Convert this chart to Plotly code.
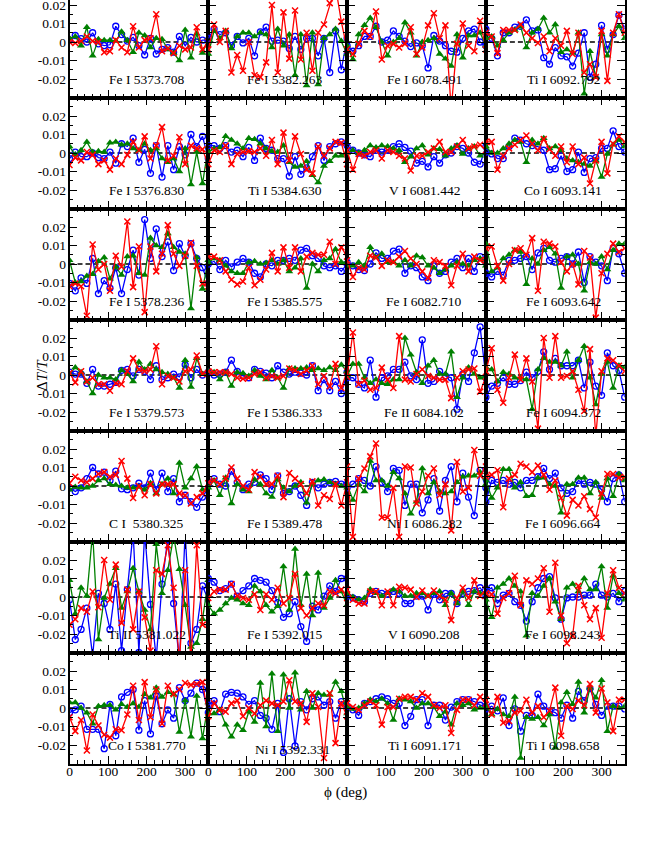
import plotly.graph_objects as go

# ---------------- data (values in units of 1e-3 of dT/T), phi step 15 deg ----------------
PHI_STEP = 15
LABELS = [
    "Fe I 5373.708", "Fe I 5382.263", "Fe I 6078.491", "Ti I 6092.792",
    "Fe I 5376.830", "Ti I 5384.630", "V I 6081.442", "Co I 6093.141",
    "Fe I 5378.236", "Fe I 5385.575", "Fe I 6082.710", "Fe I 6093.642",
    "Fe I 5379.573", "Fe I 5386.333", "Fe II 6084.102", "Fe I 6094.372",
    "C I  5380.325", "Fe I 5389.478", "Ni I 6086.282", "Fe I 6096.664",
    "Ti II 5381.022", "Fe I 5392.015", "V I 6090.208", "Fe I 6098.243",
    "Co I 5381.770", "Ni I 5392.331", "Ti I 6091.171", "Ti I 6098.658",
]

BLUE = [
    [1, 3.5, 1.8, 0, 5, -1, -2, -1.5, 8.5, 4, 0.5, 2.5, -2, -7, 2, -6.5, -4, -3, -5.5, 3, -2, 2.5, 0, 1],
    [2, 7, 4, 5, -2, 3, -0.5, 2, -7.5, 5.5, 8, 0.5, 1, 0.5, -3.5, 3, -4, 2, 2, -7.5, 2, -16.5, 6, -15],
    [-2, -5, -2, 3, 3, 8.5, 0, 1, 6, 3, 0.5, -2.5, -0.5, -2, -14, 3.5, 0.5, -2, -5, -5.5, 2, 6, 7, 0],
    [7, 2, -7.5, 5, 5, 8, 8.5, 12, 6, 6.5, -8.5, -12, -3, -7.5, -8, -13, -6, 5, -19, -12, 9, -4, 4, 14.5],
    [-3, 0.5, -2, -2, 0, -2.5, -3, 0.5, -5.5, 5, 3.5, 8, -5, 2, -11, 4, -13, 4, -9, 3.5, -1, 10, 3.5, 9],
    [4, 4, 2.5, 4, 0.5, 1.5, -2, 3, -4, 8, 2.5, 1.5, -3, -3, -12.5, -2, -11.5, -8, -2, 4, -4, 3.5, 5, 6],
    [3.5, 1.5, 0, -1, -2, 1.5, 0.5, 1.5, 3.5, 5, 3, 1, -5.5, -4.5, -7.5, -2, -5.5, -1, 0, 3.5, 2.5, 0, -5, -6],
    [0.5, -0.5, -3, -3, 3.5, 8, 7, 5, 4, 3.5, 1.5, -9, -8.5, -1.5, -10, -9, 0.5, -10.5, -3, -2.5, 2.5, 2.5, 12, 3.5],
    [-10.5, -14.5, -7.5, -10.5, 3, -16, -9, -13, -2, -16, -3, 7.5, -6, 24, 3, 19, 4, 12, -3.5, 11, 4.5, 11, 3, -2],
    [0, 1.5, -3, 2, -1.5, 1, 3, 1, -5, -7, 0, -1, 2, 2, 3, 2, 7.5, 8.5, 4.5, 3, -1, -2, -1, -4],
    [1, -1, -3, -3.5, 0, 6, 3, 3, 7, 8, -5, -1, -2, -7, -9, -1, -5, -4, 1, 3, -2, 3, -4, 4],
    [-5, -7, -4, -6, 2, 2, 3, 4, -3, 6, 8.5, 2, 1, 3, 4, 0, 6.5, -10, 4, 1, -1, -9, 8.5, 5.5],
    [1.5, 0.5, 0.5, -4.5, 3, -6, -6, -5, -4, 2.5, 3, -0.5, 3, 2, -2.5, 5, -2.5, -1.5, 0.5, -1, 5.5, -1.5, 3, 0],
    [1.5, 0, 0.5, 1.5, 8, 2, -0.5, -1.5, 3, 2, 1, -1.5, 5, 1.5, 0.5, 1.5, 1, 0, 5, -8.5, -2.5, -8.5, -3.5, -10],
    [-1.5, -1.5, -5, -7, 8, -12, -1.5, -0.5, 3, 3, 7, -0.5, -2.5, 19, -4.5, -3.5, 2, -0.5, -1.5, -18.5, 0.5, -3.5, 12, 26],
    [-12, -6, -4.5, -1.5, -5, -5, -3, 1.5, -1.5, 2, 12.5, 3, 9, 5, 5, 5, 8, -7, 7, -6, -11, 12, 5, 2.5],
    [-1, -3, -1, 4, 10, 6.5, 7.5, 3, 8, -1.5, -2, -1, 1.5, -1, 7, -2, 7, -3, 4, -8.5, -5, -8.5, -11.5, -6],
    [1, 4, 1, 0, 8, 2, -2, 1, 2, 6, 4, -2, 5.5, -4, -3, 0, -5, -10.5, 2, -1, 1, 2, 2.5, 1],
    [-1, 1, 4, 3, 0, 10.5, 2, -3, 9.5, 8.5, -10.5, 1, 1, -14.5, -7.5, 4, -13.5, 3, 10.5, -8.5, 7, -6, -16, 8.5],
    [-8.5, 3, 2, 3, 1, 2, -1, 3, 3, 5, 9.5, 4, 7, -1, -4, -3, 3, 1, 2, 1, -2, -8.5, 4, 6],
    [-1.5, -23, -17.5, -6, -32, 2, -3.5, -17.5, 7, -29, 4, 35, -30, 35, -4, -33, 7, 32, -3.5, -35, 35, -25, -17.5, 6],
    [10, 8, 3.5, 4.5, 7, 0.5, 3.5, 6, 10, 9, 8, 3.5, -3, -11, -9, -2.5, -16, -24, -5, -7, 0.5, 6, 3, 10],
    [0.5, -0.5, -1.5, -2.5, 2, 3, 2, 1.5, 3, 2, -3.5, -3.5, 0.5, 0.5, -7, 1.5, -1.5, 2, 2, -3.5, 2, 3, 3.5, 5],
    [3, 5, -3.5, 1, 2, -2.5, -4.5, -13, -2.5, 5, 10, 11, -0.5, -12, -0.5, 0, 0, 1, 1, 7, 1, 0, 2, -2.5],
    [-2.5, -1, 1, -11.5, -11.5, -11.5, -22, 2, -15, 6, 8.5, 10, -12, 4, -14, 6.5, -8.5, -1, -5.5, 11, 4, 8, 13.5, 10],
    [1.5, 4, -2, 7.5, 8.5, 8, 6, 2, 4, -4, -5.5, -11.5, 2.5, -24, 5, -20.5, 3.5, -1, 5, 6, 1.5, 3.5, -5.5, 3.5],
    [1, -1, -4, 2.5, 3.5, 5, 6, 5, 2.5, 2.5, -9.5, -4.5, 4.5, 4.5, -9.5, 1.5, 1.5, -6.5, 0.5, 3.5, 4.5, 4.5, 3.5, 1.5],
    [-0.5, 1, -1.5, 5.5, -9.5, -0.5, -12.5, -4, -4, 7.5, 1, -1.5, -2.5, -5.5, 1.5, -5.5, 9, 4, 10.5, 2, -4, 1, 1, 1],
]

RED = [
    [0, -0.5, 0.5, 3, 0.5, 0, -5.5, -5, 1, -3, -5.5, 8.5, -3, 1, 2, 15, -5, -3.5, -6, -2, -4, -3, 8, -4],
    [-4, 9.5, 0, 6, -16.5, -7, -15.5, 0, -18, -19, -11, 20, -16.5, 16, -9, 17, -9.5, 5, -15.5, 5, 9.5, 21, 30, 11],
    [-4, -6.5, -1, 6, 3, 16.5, -9.5, -2, -1, -3, -1, 8, -6.5, -3, 9, 15.5, 2, 9, -36, -1, 10, -2, -5, 11.5],
    [5, 3, -6, 6.5, 6.5, 6.5, 9.5, 5, 2, -0.5, 3, -5, 2, -2, 6, -6.5, 5, -16.5, -12, -19, 6, -21, 5, 15],
    [-6.5, -2.5, -4, 0.5, -1, -6, -4, -9, -3, -6, -1, 6, 1.5, 9, -3, 4, 14, -4, -1.5, 8.5, -6, 4, 2.5, 2],
    [-6, 1.5, 0.5, 4, -6, -0.5, 0.5, 1, 0.5, 2.5, -1.5, 7, -6, 11, -4, 9, -0.5, -9, -11, 3.5, -1.5, 2.5, 6, 5.5],
    [1.5, -9, -0.5, -1.5, 0.5, 1.5, -3, 1.5, 0.5, -1.5, -3, -9.5, -1.5, -1.5, 0.5, 2.5, 6, 0.5, 0.5, 3.5, 7, 2.5, 3.5, 4.5],
    [6, 6, -9, -1.5, 2.5, 4.5, 7, 9.5, 5, 1.5, 7.5, 2, -1.5, 3.5, -5, 3.5, -6, -2.5, -16.5, -4, 6, -11, 5, 9],
    [-12, -10.5, -12, -28, 10.5, -3, 0, -14.5, 4.5, -1.5, 23, -12.5, 9.5, -26, 9.5, -4, 5.5, 21, 5.5, -1, 4.5, 11.5, -1, -10.5],
    [4, 4, 2, -4, -8.5, -11, -9.5, -2, -11.5, -8.5, -3, 6, -4, 9, -2, 9, -4, 4, 6, 5, 5, 12, 0, 9],
    [2, -7, -2, -3, 4.5, 3.5, -1, 2, 1, 4, 7, 3, 0, -4, -7.5, 2, 1, -1, -11.5, -1, 5.5, -4, 4, 2],
    [8.5, 9.5, -1, -9, 0, 7.5, 8.5, 5, 14, -14.5, 12, 11, 9.5, 1, -4, 0, -11, 7, 3.5, -29, -5, 5.5, 11, 6.5],
    [1, -4, 2, -3.5, -1.5, -5, -5, -8.5, -4.5, -5, 2, 9, 3, 2, 3, 15.5, -5, -0.5, -1.5, -3.5, 2, 3, 10.5, 0.5],
    [2, 1.5, 1.5, 1.5, 0.5, -1.5, -2, -1.5, 0.5, 1.5, -1.5, -0.5, -1.5, -0.5, 3.5, 2.5, 0.5, 2.5, 5, -5, -0.5, -6, 6, -7],
    [-1, 23, -5, -3, -8, -7, 4, -2.5, -7, 21, -2.5, -3.5, 0.5, 3, -0.5, -1.5, -2.5, -2.5, -12.5, -1.5, 2, 3, 3.5, -9],
    [2, 14.5, -8, -15, -1.5, 11, -2.5, 9, -3.5, -29, 20, -1.5, 21, -1.5, -0.5, 2, -8, -19.5, 14, -33, 2, 9, 8, 5],
    [1.5, 5, 3, 2, 4, 6.5, 7.5, 5, 6, 13.5, 4, -6.5, 0, -5, 1, -4, 1, 1, 1, -4, -5, -9.5, -6, -4],
    [2, 3, 1, 4, 10, 4, 0, -2, 7.5, 5, 1, 1, 5.5, -6, 7, 4, 1, -4, 2.5, -10.5, -5, -7, 1, -10.5],
    [10.5, -27.5, 4, 9.5, 16, 23, -17, -17, -1, -27.5, 10.5, 10, -9.5, -3, 5.5, 9.5, -5, 1, -24, 13, -3, -1, 19.5, 5.5],
    [5, 6, 8.5, -11.5, 4, 6, 12, 10.5, 7.5, 11, 6, -2, 3, -6.5, -16, -7.5, -10.5, -5.5, -12.5, -17, -4, 6.5, 6.5, 4.5],
    [-15, -12, -6, -8, 3, -5.5, 20, -1.5, 17.5, -14, 4, -17.5, 3, -11, -29, 14.5, 12.5, 28, 5, -35, 14.5, -35, 28, -15],
    [-0.5, 3, 4, 4, 7, 0.5, -0.5, -1.5, 1.5, -7, 1.5, -1.5, 5, -3.5, -0.5, 12.5, -6, -10, -6, -3.5, -4.5, 3, 2, 4],
    [4, -1.5, -3.5, -3.5, 3, 3, -4.5, 3, -4.5, 5.5, 5, 4, 0, 3.5, 0.5, 3.5, 0.5, -1.5, -12.5, -0.5, 5, -0.5, 9, 0.5],
    [2, 1.5, -9, -0.5, 2, 11.5, -4.5, 9, 7, 10, 15.5, -8, 18.5, -10, -25, -21, 6, -4.5, -12, -6, -22, 2, 14.5, 5],
    [-5, -12.5, -6.5, -23, -3.5, -9.5, -14.5, -16, -11.5, -12, -3.5, 12, -6.5, 14, -5, 10, -8.5, 12, 7.5, 10, 13.5, 12.5, 13, 14],
    [-4.5, 2.5, -1, -2, 2.5, 4, -4.5, 0, -3, 1.5, 4, 2.5, 1.5, 3.5, 15, 3.5, 2.5, -7.5, 8, 0.5, -27, 8, -19, 2.5],
    [2.5, 0.5, -1, 1.5, 3.5, 1.5, -9, 0.5, 0.5, 5, 6, 6, 4.5, 8, 6, 1.5, 0, 1.5, -13.5, -1, 4.5, 4.5, 1.5, 6],
    [4.5, -3.5, 6, -8, -7, -2.5, -1.5, 4.5, -2.5, 1, -5, -1.5, 11, -15, 1, -0.5, 4, 1.5, 13, -2.5, 10.5, 3, -12.5, 4.5],
]

GREEN = [
    [2, 3, -2, 8, -7.5, 1.5, 1, 1, 0.5, 5.5, 1, -5.5, 5, 3.5, -3, 2, 1.5, -4, -6, -10, 6.5, -8.5, 4.5, -6],
    [-6.5, 6, 2, 6, -3.5, 3, 5, 5, 3, 5, 4, -3, 7, -2, 4, -18, 4, -23.5, 5, -23, 2, 4, 7, 0.5],
    [-2, -9.5, 4, 9, 13, 8, 0, -7.5, 0, 2, 10.5, 5, -7.5, 0, 1, 2, -6.5, -9, -13, 4, -8.5, 3.5, 3.5, 5],
    [2, 3, -2, 1, 5, 6.5, 8.5, -3, 5, 7, 13, 5, 9.5, -5.5, -4, -6, 5, -28, -5, -19, 4, -7.5, 4, 8.5],
    [3.5, -1, 1.5, 6, 0.5, 1, 0.5, 5.5, 6, 4.5, 5, 2.5, 1.5, 5, 1.5, 2.5, -3, -5, -3, -10, 2.5, -17, 0.5, -16.5],
    [0.5, 2.5, 3, 9, 7, 5, 2.5, 8, 7.5, 5, 2.5, 1, 0.5, 4, -5, -7.5, -7, -4.5, -12, -16, -7, -4.5, -1.5, -1.5],
    [0, 1.5, 0, 1.5, 4, 3, 4, 3.5, 2.5, 1.5, -5, -2, 2.5, 4, -1, 2.5, 2, -1.5, 2.5, 4, -0.5, 2.5, 3.5, -1.5],
    [3.5, 0, 0, 2.5, 5, 7, 6, -5, 7, 5, 8, 2.5, 3.5, 1.5, -3, -4, -5, -6, -7, -4, -13, -0.5, 4.5, 7],
    [2, -10, -9.5, -6.5, -5.5, 1.5, 3.5, -8, -1.5, -6, 4, 4.5, -5, -6, 14, 10, 9, 16.5, 9, 6.5, 5.5, -24, 3.5, -13.5],
    [1, 3, 2, -1, -4, -5, -5, 1, 1.5, 0, 0.5, 2, 0, 2, -4, -2, 3, -13, 0, -4, 2, 3, 8, 1],
    [-1, -1, 1, -1, 9, 3.5, 5.5, 1, 1, -1, 2, -1, 4.5, 3.5, -1, -2, -5, -3, -1, 1, 0, -1, 2, 3],
    [11, -4, -2, 3, 5, 7.5, 6.5, -11, 3, 0, 7.5, 9, 5.5, -13, 4, 5, 0, -14.5, 1, 0, 4, -3, 7.5, 11],
    [0.5, 4, 1.5, -3.5, -10, 0, -1.5, -1.5, -2.5, 2.5, 0.5, -3.5, 7, 3, 6, 3, 1.5, 0.5, -1.5, -7, 8, -6.5, 9, 0.5],
    [2, 1.5, -2.5, 1.5, -6, 1.5, 1, -0.5, 2.5, -0.5, -2.5, 2.5, -1.5, -7, 3.5, 3.5, 3.5, 4, 2.5, 3.5, 2.5, 4, 2.5, 5.5],
    [-0.5, 6, 6, -1.5, -4.5, -2.5, -4.5, -5, -2.5, -2.5, 20, 11, 1.5, -4.5, 5, 8, 0.5, 0.5, 12.5, -12, -1.5, 4, 0.5, -1.5],
    [4, 3, -3.5, 1.5, 0.5, -1.5, -1.5, -2.5, -18.5, 3, 9, 7, 7, 5, 12.5, -1.5, 8, 15.5, -1.5, -16, 0.5, 7, -7, 5],
    [-2, -0.5, -1, -1, 0, 3, 4, 1, 0.5, 0, -1, -1, -0.5, -2, 1.5, -4, 1, 4, -4, 12.5, -1, 4, 10.5, -2],
    [-1, 3, -5, 4.5, -9.5, 1, -2, -3, 3.5, 1, -4, -6, 3.5, -1, -3, 0, 2, -9, 1, 3, 3.5, 2, 1, 0],
    [1, -7.5, 1, -3, 13.5, 3, 3, 0, 7.5, 4, -4, -15, -8.5, 9.5, -4, 2, -3, -4, -3, 2, 5, 5.5, 5.5, 7.5],
    [3, -6.5, -1, 9, 9, -1, 2, -5.5, -5, 4.5, 4.5, 1, 0, -14.5, 1, 1, 4.5, 4.5, -4, 2, -6.5, 4, -5.5, 6.5],
    [9, -9, 5, 0.5, 35, -23, -0.5, 7, 15.5, -6, 3, 15.5, 3, -7, -17.5, 28.5, 2, 14.5, 33, 15, -4.5, -27, -25, -12],
    [-4.5, -9, -7, -3.5, -0.5, -1.5, -3.5, -4.5, 6, 3, -4.5, -8, -5, 16.5, -7, 26, -4.5, 12.5, -10, 13, -6, -0.5, 9, 3],
    [2, 0, -1.5, -0.5, 4, 2, 0.5, 2, 4, 3, 0.5, 0.5, 2, 2, 0.5, 2, 3, -4.5, 2, -3.5, 3, -4.5, 3, 2],
    [-1.5, -11, 5, 7, 10, 6, 3, -21, 2, 0.5, 6, 10, -2.5, -12, 5, 7, 3, 10, 4, 4, 16.5, -6, 11.5, 2],
    [3, 3, 0, -2.5, -8.5, 1, 1.5, 1.5, -1, 2, 0.5, 2.5, 0.5, 7.5, 5.5, 11, 6, 8.5, 7.5, -13, 4, -15.5, 6.5, -16.5],
    [-3, -3, -1, -9, -15.5, -9, -12, -2, -7.5, 13.5, -10, 18.5, -12.5, 18, 0, 19, -1, 9, 0, 8, 7, 7, 14, 9],
    [0.5, -0.5, 0, 2.5, 4.5, 3.5, 5, 2.5, -6.5, 5, 4.5, 3.5, 0, 2.5, 2.5, 0.5, -4.5, -2, -9, 2.5, 1.5, 2.5, -1, 0],
    [1, -3.5, -0.5, -3.5, -4.5, 6, -27, -5, -6, -5, -9.5, -3.5, -21.5, 3, 8.5, 2, 14, -2.5, 11, 5.5, 15, -12.5, 1, 0],
]

X_TICKS = [0, 100, 200, 300]
X_MINOR = [20, 40, 60, 80, 120, 140, 160, 180, 220, 240, 260, 280, 320, 340]
Y_TICKS = [-0.02, -0.01, 0, 0.01, 0.02]
Y_TICK_TEXT = ["-0.02", "-0.01", "0", "0.01", "0.02"]
Y_MINOR = [-0.025, -0.015, -0.005, 0.005, 0.015, 0.025]

# ---------------- layout geometry (pixels) ----------------
W, H = 665, 860
NROWS, NCOLS = 7, 4
COL_EDGES = [69.5, 208.3, 347.1, 485.9, 624.7]
ROW_H = 111.0
ROW1_TOP = -13.5          # top row is cut off by the image edge
YR = 0.03

FONT = "Liberation Serif"
BLUE_C, RED_C, GREEN_C = "#0000ff", "#ff0000", "#008000"

fig = go.Figure()
layout = {}
shapes = []
annotations = []

for i in range(NROWS * NCOLS):
    r, c = divmod(i, NCOLS)
    n = i + 1
    xa = "xaxis" if n == 1 else f"xaxis{n}"
    ya = "yaxis" if n == 1 else f"yaxis{n}"
    xr = "x" if n == 1 else f"x{n}"
    yr = "y" if n == 1 else f"y{n}"

    top_px = ROW1_TOP + r * ROW_H
    bot_px = top_px + ROW_H
    vis_top = max(top_px, 0.0)
    y_hi = YR - (vis_top - top_px) / ROW_H * (2 * YR)

    layout[xa] = dict(
        domain=[COL_EDGES[c] / W, COL_EDGES[c + 1] / W],
        range=[0, 360], anchor=yr, automargin=False,
        showline=True, linecolor="black", linewidth=1.8,
        mirror=("allticks" if r > 0 else False),
        ticks="inside", tickvals=X_TICKS, ticklen=8, tickwidth=1.4, tickcolor="black",
        minor=dict(tickvals=X_MINOR, ticks="inside", ticklen=4, tickwidth=1.4, tickcolor="black"),
        showticklabels=(r == NROWS - 1), ticklabelstandoff=-6, ticklabeloverflow="allow",
        tickfont=dict(family=FONT, size=13.5, color="black"),
        showgrid=False, zeroline=False, fixedrange=True,
    )
    layout[ya] = dict(
        domain=[1 - bot_px / H, 1 - vis_top / H],
        range=[-YR, y_hi], anchor=xr, automargin=False,
        showline=True, linecolor="black", linewidth=1.8, mirror="allticks",
        ticks="inside", tickvals=Y_TICKS, ticktext=Y_TICK_TEXT, ticklen=8, tickwidth=1.4,
        tickcolor="black",
        minor=dict(tickvals=Y_MINOR, ticks="inside", ticklen=4, tickwidth=1.4, tickcolor="black"),
        showticklabels=(c == 0), ticklabelstandoff=-1, ticklabeloverflow="allow",
        tickfont=dict(family=FONT, size=13.5, color="black"),
        showgrid=False, zeroline=False, fixedrange=True,
    )

    shapes.append(dict(type="line", xref=xr, yref=yr, x0=0, x1=360, y0=0, y1=0,
                       line=dict(color="black", width=1.4, dash="5px,3px"), layer="below"))

    lab_x, lab_y = 200, -0.0205
    if LABELS[i].startswith("Ni I 5392"):
        lab_x, lab_y = 218, -0.0225
    annotations.append(dict(text=LABELS[i], xref=xr, yref=yr, x=lab_x, y=lab_y,
                            showarrow=False, xanchor="center", yanchor="middle",
                            font=dict(family=FONT, size=13.5, color="black")))

    series = [
        (BLUE[i], BLUE_C, dict(symbol="circle-open", size=6, line=dict(width=1.3, color=BLUE_C))),
        (GREEN[i], GREEN_C, dict(symbol="triangle-up", size=7, color=GREEN_C, line=dict(width=0))),
        (RED[i], RED_C, dict(symbol="x-thin-open", size=6, line=dict(width=1.5, color=RED_C))),
    ]
    for vals, col, mk in series:
        yv = [v * 1e-3 for v in vals] + [vals[0] * 1e-3]      # periodic in phi: 360 == 0
        xv = [k * PHI_STEP for k in range(len(yv))]
        fig.add_trace(go.Scatter(x=xv, y=yv, mode="lines+markers", xaxis=xr, yaxis=yr,
                                 line=dict(color=col, width=1.3), marker=mk,
                                 showlegend=False, hoverinfo="skip", cliponaxis=True))

annotations.append(dict(text="Δ<i>T</i>/<i>T</i>", xref="paper", yref="paper",
                        x=42 / W, y=1 - 375 / H, textangle=-90, showarrow=False,
                        xanchor="center", yanchor="middle",
                        font=dict(family=FONT, size=15, color="black")))
annotations.append(dict(text="ϕ (deg)", xref="paper", yref="paper",
                        x=345 / W, y=1 - 792 / H, showarrow=False,
                        xanchor="center", yanchor="middle",
                        font=dict(family=FONT, size=15, color="black")))

fig.update_layout(width=W, height=H, margin=dict(l=0, r=0, t=0, b=0, autoexpand=False),
                  paper_bgcolor="white", plot_bgcolor="white",
                  shapes=shapes, annotations=annotations, **layout)

fig.write_html("out.html", config={"displayModeBar": False},
               post_script="document.body.style.margin='0px';document.body.style.padding='0px';")
